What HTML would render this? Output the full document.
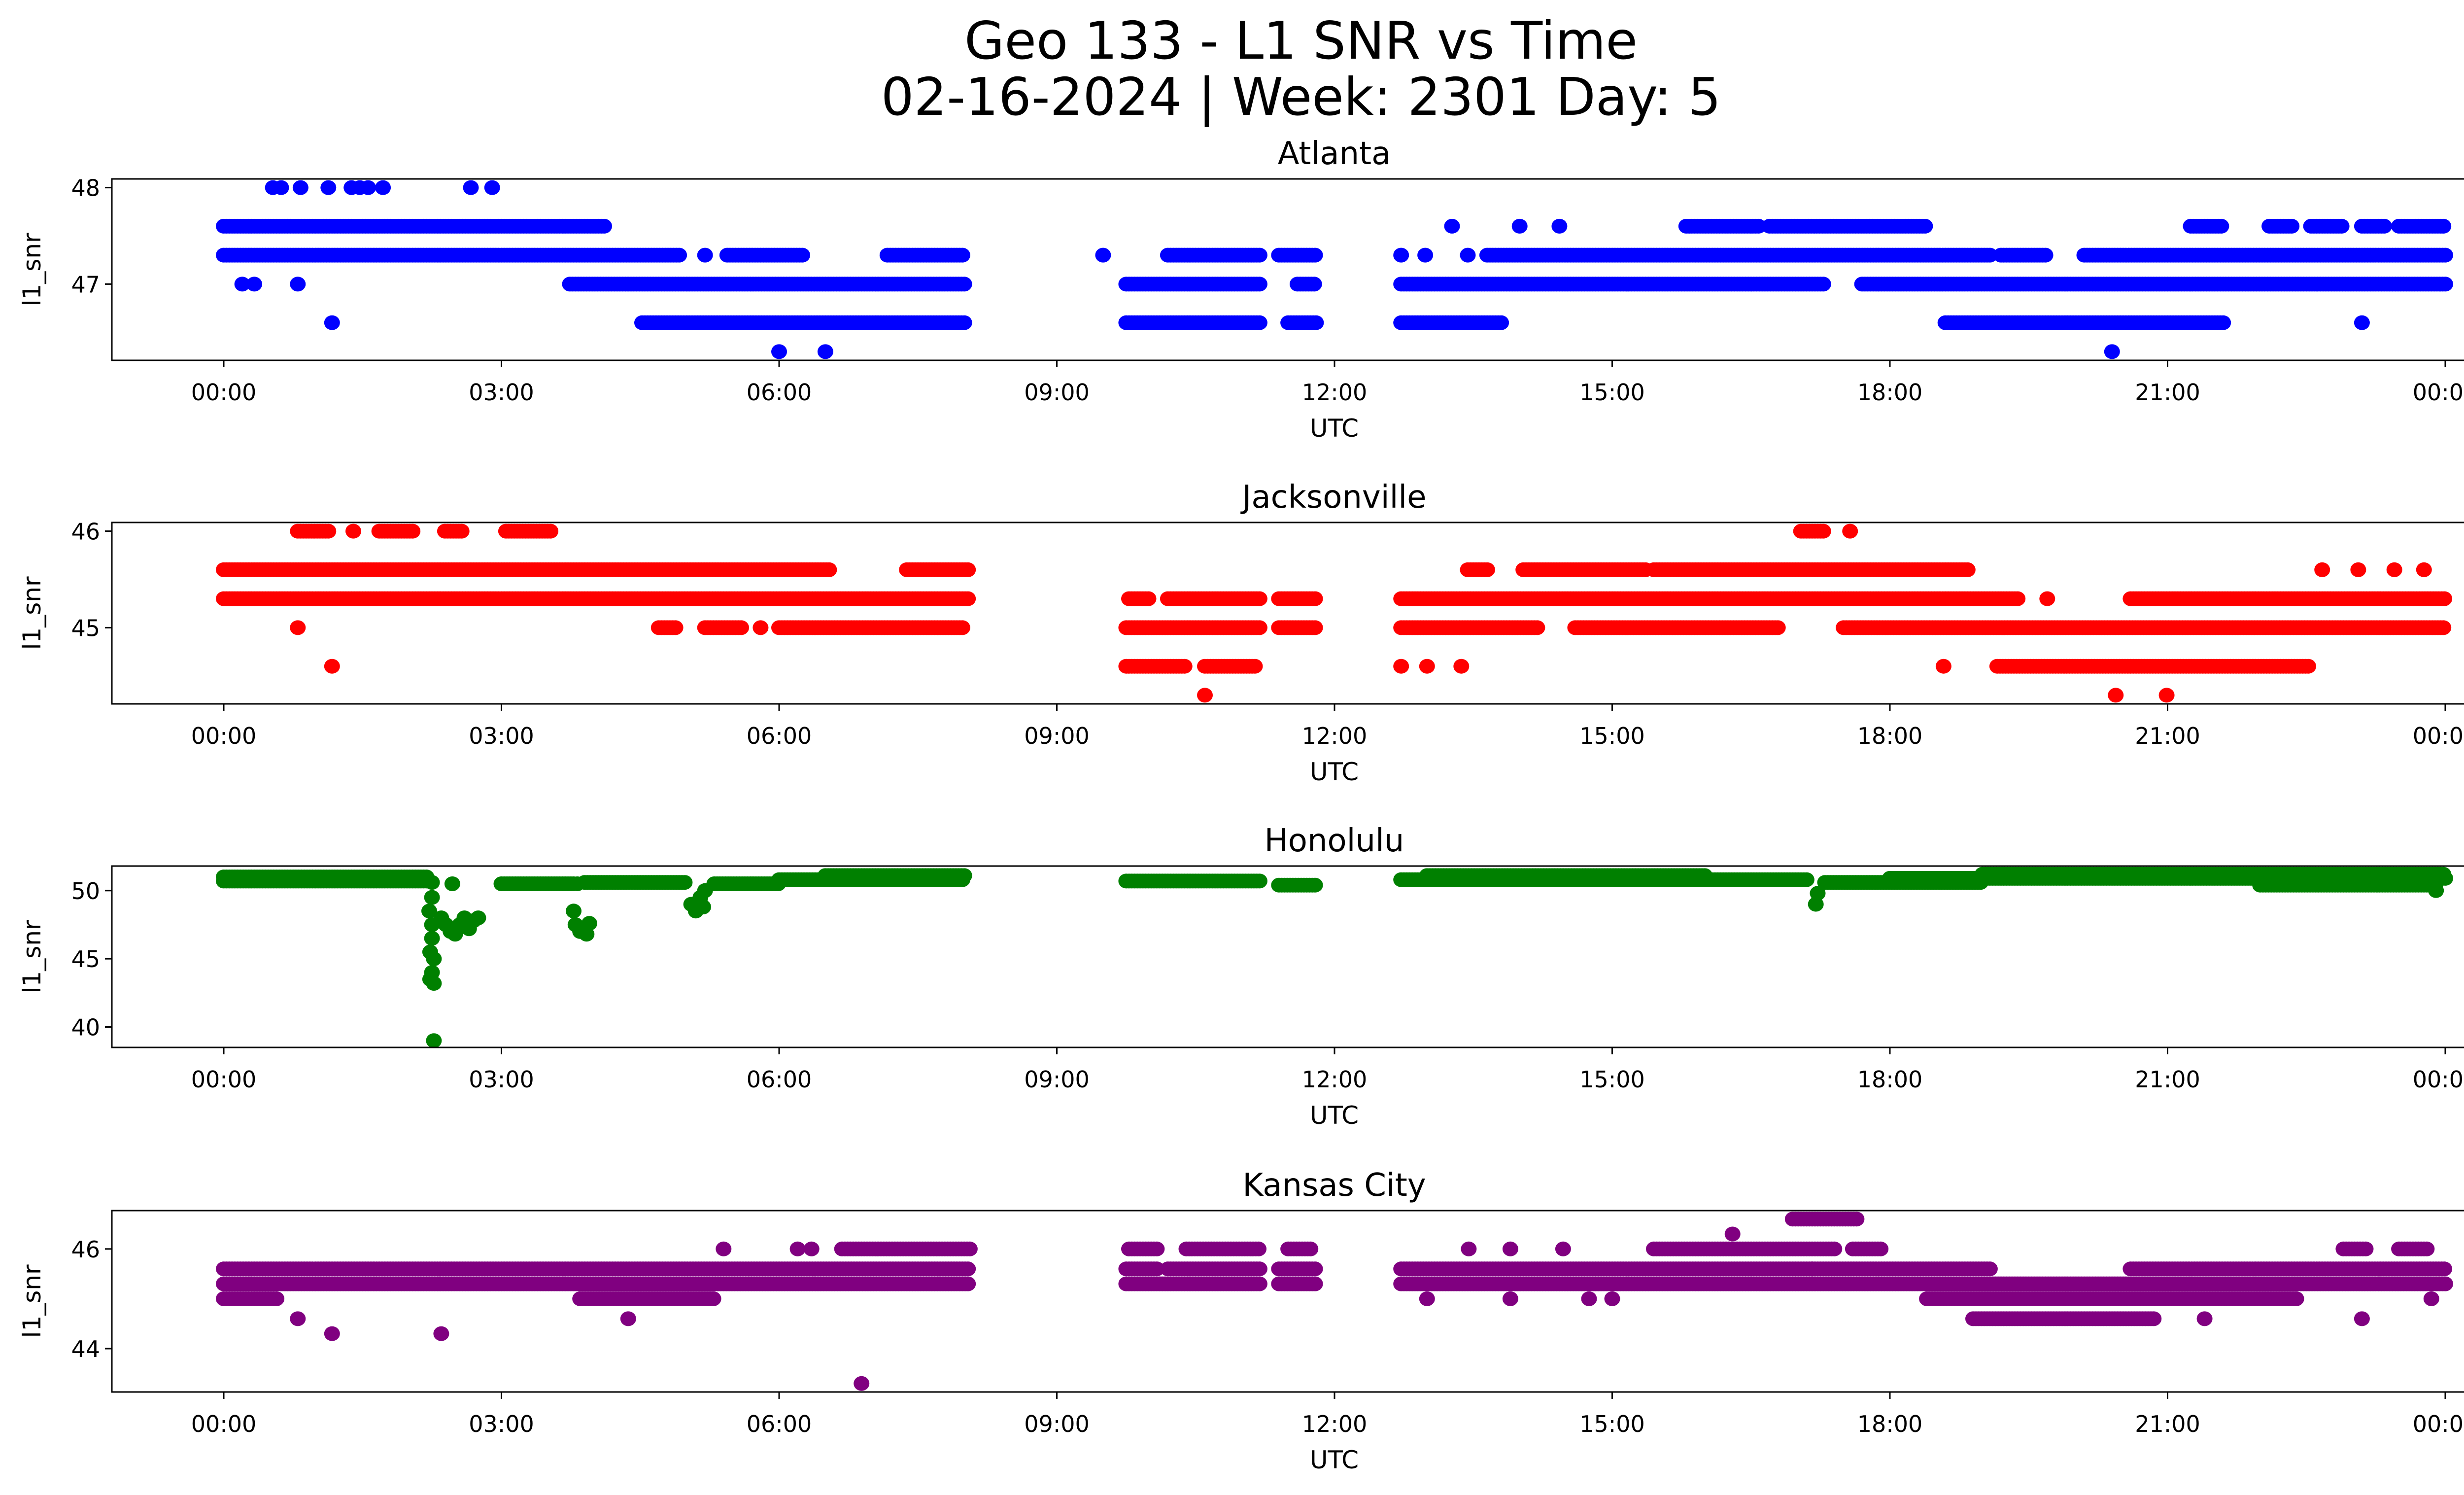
<!DOCTYPE html>
<html><head><meta charset="utf-8">
<style>
html,body{margin:0;padding:0;background:#fff;overflow:hidden;}
svg{display:block;font-family:"DejaVu Sans","Liberation Sans",sans-serif;}
</style></head>
<body>
<svg id="chart" width="5226" height="3033" viewBox="0 0 5226 3033" xmlns="http://www.w3.org/2000/svg">
<rect width="5226" height="3033" fill="#fff"/>
<text x="2640" y="119" font-size="105" text-anchor="middle">Geo 133 - L1 SNR vs Time</text>
<text x="2640" y="233" font-size="105" text-anchor="middle">02-16-2024 | Week: 2301 Day: 5</text>
</svg>
<script>
// ---- data (hours UTC, SNR) ----
const xTickHours = [0,3,6,9,12,15,18,21,24];
const xTickLabels = ["00:00","03:00","06:00","09:00","12:00","15:00","18:00","21:00","00:00"];
const siteNames = ["Atlanta","Jacksonville","Honolulu","Kansas City"];
const siteColors = ["#0000ff","#ff0000","#008000","#800080"];
const yLimits = [[46.21,48.09],[44.21,46.09],[38.5,51.8],[43.13,46.77]];
const yTicks = [[47,48],[45,46],[40,45,50],[44,46]];

// runs: [snr, startHour, endHour]
const atlantaRuns = [
 [47.6,0,4.11],[47.6,15.8,16.6],[47.6,16.7,18.4],[47.6,21.25,21.6],[47.6,22.1,22.35],[47.6,22.55,22.9],[47.6,23.1,23.35],[47.6,23.5,24],
 [47.3,0,4.94],[47.3,5.44,6.27],[47.3,7.17,8.0],[47.3,10.2,11.2],[47.3,11.4,11.8],[47.3,13.65,19.1],[47.3,19.2,19.7],[47.3,20.1,24],
 [47.0,3.74,8.0],[47.0,9.75,11.2],[47.0,11.6,11.8],[47.0,12.72,17.3],[47.0,17.7,24],
 [46.6,4.52,8.0],[46.6,9.75,11.2],[46.6,11.5,11.8],[46.6,12.72,13.8],[46.6,18.6,21.6]
];
const atlantaPoints = [
 [48,0.53],[48,0.62],[48,0.83],[48,1.13],[48,1.38],[48,1.47],[48,1.56],[48,1.72],[48,2.67],[48,2.9],
 [47.6,13.27],[47.6,14.0],[47.6,14.43],[47.3,5.2],[47.3,9.5],[47.3,12.72],[47.3,12.98],[47.3,13.44],
 [47.0,0.2],[47.0,0.33],[47.0,0.8],[46.6,1.17],[46.6,23.1],[46.3,6.0],[46.3,6.5],[46.3,20.4]
];
const jaxRuns = [
 [46,0.8,1.15],[46,1.68,2.04],[46,2.39,2.57],[46,3.05,3.54],[46,17.04,17.3],
 [45.6,0,6.55],[45.6,7.38,8.06],[45.6,13.44,13.67],[45.6,14.04,15.36],[45.6,15.45,18.86],
 [45.3,0,8.06],[45.3,9.78,10.0],[45.3,10.2,11.2],[45.3,11.4,11.8],[45.3,12.72,19.4],[45.3,20.6,24],
 [45.0,4.7,4.9],[45.0,5.2,5.6],[45.0,6.0,8.0],[45.0,9.75,11.2],[45.0,11.4,11.8],[45.0,12.72,14.2],[45.0,14.6,16.8],[45.0,17.5,24],
 [44.6,9.75,10.4],[44.6,10.6,11.15],[44.6,19.16,22.53]
];
const jaxPoints = [
 [46,1.4],[46,17.57],[45.6,22.67],[45.6,23.06],[45.6,23.45],[45.6,23.77],[45.3,19.7],[45.0,0.8],[45.0,5.8],
 [44.6,1.17],[44.6,12.72],[44.6,13.0],[44.6,13.37],[44.6,18.58],[44.3,10.6],[44.3,20.44],[44.3,20.99]
];
const honoluluRuns = [
 [50.7,0,2.2],[51.0,0,2.2],[50.5,3.0,3.8],[50.6,3.9,5.0],[50.5,5.3,6.0],[50.8,6.0,8.0],[51.1,6.5,8.0],
 [50.7,9.75,11.2],[50.4,11.4,11.8],[50.8,12.72,17.1],[51.1,13.0,16.0],[50.6,17.3,19.0],[50.9,18.0,24],[51.2,19.0,24],[50.4,22.0,23.9]
];
const honoluluPoints = [
 [50.6,2.25],[49.5,2.25],[48.5,2.22],[47.5,2.25],[46.5,2.25],[45.5,2.23],[45,2.27],[44,2.25],[43.5,2.23],[43.2,2.27],[39,2.27],
 [48,2.35],[47.5,2.4],[47,2.45],[46.8,2.5],[47.5,2.55],[48,2.6],[47.8,2.7],[48,2.75],[47.2,2.65],[50.5,2.47],
 [48.5,3.78],[47.5,3.8],[47,3.85],[47.2,3.9],[46.8,3.92],[47.6,3.95],[50.5,3.82],
 [49,5.05],[48.5,5.1],[49.5,5.15],[50,5.2],[48.8,5.18],[49,17.2],[49.8,17.22],[50,23.9]
];
const kcRuns = [
 [45.6,0,8.06],[45.6,9.75,10.1],[45.6,10.2,11.2],[45.6,11.4,11.8],[45.6,12.72,19.1],[45.6,20.6,24],
 [45.3,0,8.06],[45.3,9.75,11.2],[45.3,11.4,11.8],[45.3,12.72,24],
 [45.0,0,0.57],[45.0,3.85,5.3],[45.0,18.4,22.4],
 [46.0,6.68,8.06],[46.0,9.78,10.1],[46.0,10.4,11.2],[46.0,11.5,11.75],[46.0,15.45,17.4],[46.0,17.6,17.9],[46.0,22.9,23.15],[46.0,23.5,23.8],
 [46.6,16.95,17.65],[44.6,18.9,20.85]
];
const kcPoints = [
 [46.0,5.4],[46.0,6.2],[46.0,6.35],[46.0,13.45],[46.0,13.9],[46.0,14.47],[46.3,16.3],[45.6,17.16],
 [45.0,13.0],[45.0,13.9],[45.0,14.75],[45.0,15.0],[45.0,23.85],
 [44.6,0.8],[44.6,4.37],[44.6,21.4],[44.6,23.1],[44.3,1.17],[44.3,2.35],[43.3,6.89]
];
const siteRuns = [atlantaRuns, jaxRuns, honoluluRuns, kcRuns];
const sitePoints = [atlantaPoints, jaxPoints, honoluluPoints, kcPoints];

// ---- layout ----
const NS = "http://www.w3.org/2000/svg";
const svg = document.getElementById("chart");
const L = 227, R = 5188, X0 = 454, X24 = 4962;
const tops = [363, 1060, 1757, 2456], H = 368;
function xScale(h){ return X0 + (X24 - X0) * h / 24; }
function mk(tag, attrs, parent){
  const e = document.createElementNS(NS, tag);
  for (const k in attrs) e.setAttribute(k, attrs[k]);
  (parent || svg).appendChild(e);
  return e;
}
const STEP = 0.03;
siteNames.forEach((name, i) => {
  const top = tops[i], bot = top + H;
  const [y0, y1] = yLimits[i];
  const yScale = v => bot - (v - y0) / (y1 - y0) * H;
  const g = mk("g", {});
  
  
  const clipId = "clip" + i;
  const cp = mk("clipPath", {id: clipId}, g);
  mk("rect", {x: L, y: top, width: R - L, height: H}, cp);
  const pts = mk("g", {"clip-path": "url(#" + clipId + ")", fill: siteColors[i]}, g);
  
  
  siteRuns[i].forEach(r => {
    for (let h = r[1]; h <= r[2] + 1e-9; h += STEP) {
      const c = mk("ellipse", {cx: xScale(h).toFixed(1), cy: yScale(r[0]).toFixed(1), rx: 16, ry: 15}, pts);
      
      
    }
  });
  sitePoints[i].forEach(p => {
    const c = mk("ellipse", {cx: xScale(p[1]).toFixed(1), cy: yScale(p[0]).toFixed(1), rx: 16, ry: 15}, pts);
    
    
  });
  const fr = mk("rect", {x: L, y: top, width: R - L, height: H, fill: "none", stroke: "#000", "stroke-width": 3}, g);
  
  
  xTickHours.forEach((h, k) => {
    const x = xScale(h);
    mk("line", {x1: x, x2: x, y1: bot, y2: bot + 14, stroke: "#000", "stroke-width": 3}, g);
    const t = mk("text", {x: x, y: bot + 81, "font-size": 46, "text-anchor": "middle"}, g);
    t.textContent = xTickLabels[k];
    
    
  });
  yTicks[i].forEach(v => {
    const y = yScale(v);
    mk("line", {x1: L - 14, x2: L, y1: y, y2: y, stroke: "#000", "stroke-width": 3}, g);
    const t = mk("text", {x: L - 24, y: y + 17, "font-size": 46, "text-anchor": "end"}, g);
    t.textContent = String(v);
    
    
  });
  const xl = mk("text", {x: (L + R) / 2, y: bot + 155, "font-size": 50, "text-anchor": "middle"}, g);
  xl.textContent = "UTC";
  
  
  const yl = mk("text", {x: 0, y: 0, "font-size": 50, "text-anchor": "middle", transform: "translate(82," + (top + H / 2) + ") rotate(-90)"}, g);
  yl.textContent = "l1_snr";
  
  
  const st = mk("text", {x: (L + R) / 2, y: top - 30, "font-size": 64, "text-anchor": "middle"}, g);
  st.textContent = name;
  
  
});
</script>
</body></html>
